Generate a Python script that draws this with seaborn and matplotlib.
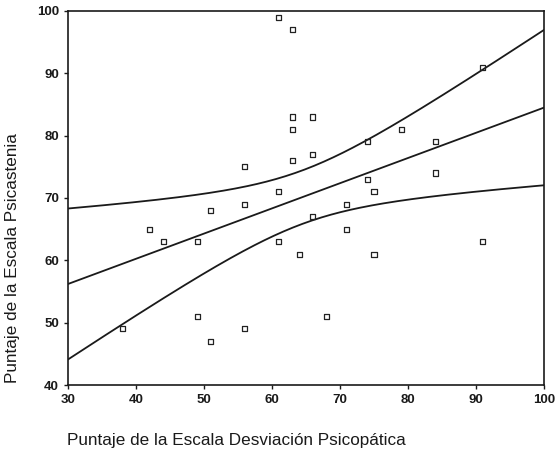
import numpy as np
import pandas as pd
import matplotlib
matplotlib.use("Agg")
import matplotlib.pyplot as plt
import seaborn as sns

# Scores: Psychopathic Deviate (x) vs Psychasthenia (y)
desviacion = [61, 63, 91, 63, 66, 63, 79, 74, 84, 66, 63, 84, 74, 61, 75, 71, 66,
              71, 56, 51, 56, 42, 44, 49, 61, 38, 49, 51, 56, 64, 75, 91, 68]
psicastenia = [99, 97, 91, 83, 83, 81, 81, 79, 79, 77, 76, 74, 73, 71, 71, 69, 67,
               65, 75, 68, 69, 65, 63, 63, 63, 49, 51, 47, 49, 61, 61, 63, 51]

x_ticks = [30, 40, 50, 60, 70, 80, 90, 100]
y_ticks = [40, 50, 60, 70, 80, 90, 100]

df = pd.DataFrame({"x": desviacion, "y": psicastenia})

# Least-squares fit with 95% confidence band for the mean
x = df["x"].to_numpy(float)
y = df["y"].to_numpy(float)
n = len(x)
slope, intercept = np.polyfit(x, y, 1)
resid = y - (intercept + slope * x)
s = np.sqrt(np.sum(resid ** 2) / (n - 2))
sxx = np.sum((x - x.mean()) ** 2)
t_crit = 2.0395  # t(0.975, df=31)
grid = np.linspace(30, 100, 200)
fit = intercept + slope * grid
se = s * np.sqrt(1.0 / n + (grid - x.mean()) ** 2 / sxx)
band = pd.DataFrame({"x": grid, "fit": fit, "lo": fit - t_crit * se, "hi": fit + t_crit * se})

sns.set_style("ticks")
plt.rcParams["font.family"] = ["Liberation Sans", "DejaVu Sans"]

fig = plt.figure(figsize=(5.55, 4.53), dpi=100)
ax = fig.add_axes([68 / 555, 68 / 453, 476 / 555, 374 / 453])

line_kw = dict(color="#1a1a1a", linewidth=1.3, ax=ax, legend=False)
sns.lineplot(data=band, x="x", y="fit", **line_kw)
sns.lineplot(data=band, x="x", y="lo", **line_kw)
sns.lineplot(data=band, x="x", y="hi", **line_kw)
sns.scatterplot(data=df, x="x", y="y", marker="s", s=14, facecolor="none",
                edgecolor="#222222", linewidth=0.9, ax=ax, zorder=3)

ax.set_xlim(30, 100)
ax.set_ylim(40, 100)
ax.set_xticks(x_ticks)
ax.set_yticks(y_ticks)
ax.tick_params(direction="out", length=3, width=1, labelsize=9.5, colors="#1a1a1a")
for lab in ax.get_xticklabels() + ax.get_yticklabels():
    lab.set_fontweight("bold")
for sp in ax.spines.values():
    sp.set_color("#1a1a1a")
    sp.set_linewidth(1.2)
ax.set_xlabel("")
ax.set_ylabel("")

fig.text(67 / 555, 1 - 441 / 453, "Puntaje de la Escala Desviación Psicopática",
         ha="left", va="center", fontsize=12.3, color="#1a1a1a")
fig.text(13 / 555, 70 / 453, "Puntaje de la Escala Psicastenia",
         rotation=90, ha="center", va="bottom", fontsize=12.3, color="#1a1a1a")

fig.savefig("out.png", dpi=100)
